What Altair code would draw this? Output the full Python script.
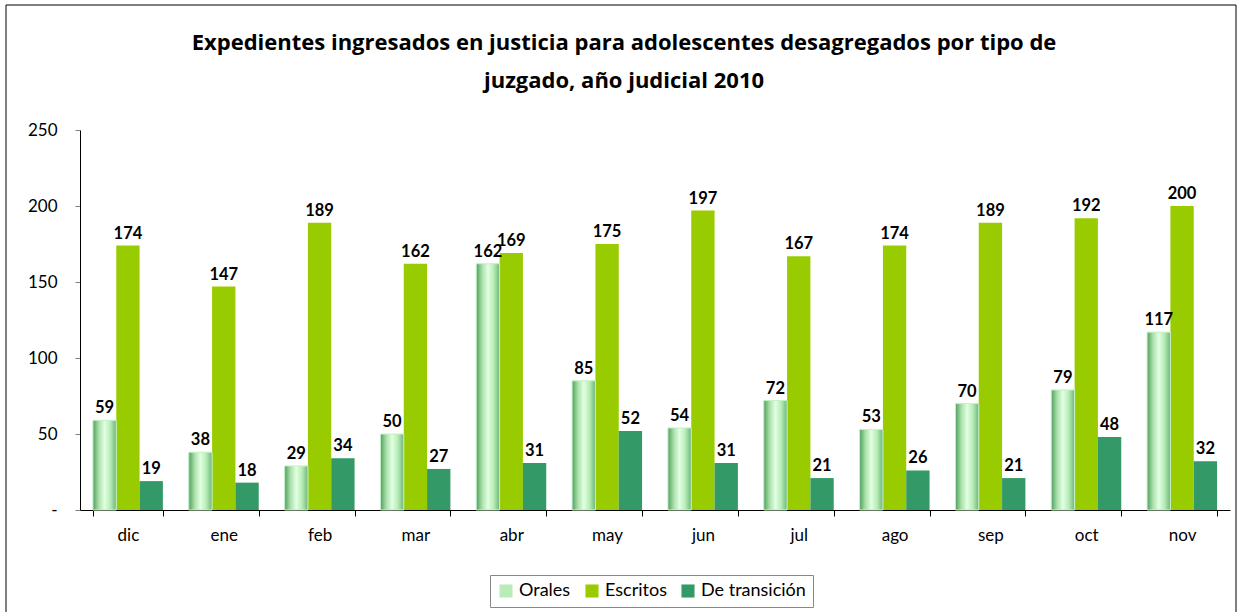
import altair as alt
import pandas as pd

meses = ["dic", "ene", "feb", "mar", "abr", "may", "jun", "jul", "ago", "sep", "oct", "nov"]
orales = [59, 38, 29, 50, 162, 85, 54, 72, 53, 70, 79, 117]
escritos = [174, 147, 189, 162, 169, 175, 197, 167, 174, 189, 192, 200]
transicion = [19, 18, 34, 27, 31, 52, 31, 21, 26, 21, 48, 32]
series = ["Orales", "Escritos", "De transición"]

rows = []
for i, m in enumerate(meses):
    rows.append({"mes": m, "tipo": "Orales", "valor": orales[i]})
    rows.append({"mes": m, "tipo": "Escritos", "valor": escritos[i]})
    rows.append({"mes": m, "tipo": "De transición", "valor": transicion[i]})
df = pd.DataFrame(rows)

FONT = "Lato"

x = alt.X("mes:N", sort=meses, title=None,
          scale=alt.Scale(paddingInner=0.27, paddingOuter=0.135),
          axis=alt.Axis(labelAngle=0, labelFontSize=17, labelFont=FONT, labelColor="black",
                        tickBand="extent", tickSize=6, tickColor="black", domainColor="black",
                        labelPadding=11))
xo = alt.XOffset("tipo:N", sort=series, scale=alt.Scale(domain=series, paddingInner=0, paddingOuter=0))
y = alt.Y("valor:Q", title=None,
          scale=alt.Scale(domain=[0, 250]),
          axis=alt.Axis(values=[0, 50, 100, 150, 200, 250], grid=False, labelFontSize=17,
                        labelFont=FONT, labelColor="black", tickSize=5, tickColor="gray",
                        domainColor="black", labelPadding=18,
                        labelExpr="datum.value == 0 ? '-' : datum.label"))

color = alt.Color("tipo:N", sort=series,
                  scale=alt.Scale(domain=series, range=["#b8ecb8", "#99CC00", "#339966"]),
                  legend=alt.Legend(title=None, orient="none", direction="horizontal",
                                    legendX=410, legendY=445,
                                    labelFontSize=18, labelFont=FONT, labelColor="black",
                                    symbolType="square", symbolSize=170, strokeColor="#888",
                                    padding=7, columnPadding=12, labelLimit=200))

base = alt.Chart(df)

bars = base.mark_bar().encode(x=x, xOffset=xo, y=y, color=color)

grad = alt.LinearGradient(
    gradient="linear", x1=0, x2=1, y1=0, y2=0,
    stops=[alt.GradientStop(offset=0, color="#4f9f60"),
           alt.GradientStop(offset=0.25, color="#a9e0a9"),
           alt.GradientStop(offset=0.5, color="#e2ffe2"),
           alt.GradientStop(offset=0.75, color="#b5ecb5"),
           alt.GradientStop(offset=1, color="#6db57a")])

oral_bars = base.transform_filter(alt.datum.tipo == "Orales").mark_bar(
    fill=grad, stroke="#c8f0c8", strokeWidth=1).encode(x=x, xOffset=xo, y=y)

labels = base.mark_text(dy=-12, fontSize=16.5, fontWeight="bold", font=FONT, color="black").encode(
    x=x, xOffset=xo, y=y, text="valor:Q")

frame = alt.Chart(pd.DataFrame({"a": [0]})).mark_rect(
    fill=None, stroke="black", strokeWidth=1).encode(
    x=alt.value(-74), x2=alt.value(1156), y=alt.value(-125), y2=alt.value(500))

chart = alt.layer(frame, bars, oral_bars, labels).properties(
    width=1150, height=380,
    title=alt.TitleParams(
        ["Expedientes ingresados en justicia para adolescentes desagregados por tipo de",
         "juzgado, año judicial 2010"],
        font="Open Sans", fontSize=22, fontWeight="bold", color="black", anchor="middle",
        dx=-31, lineHeight=38, offset=-88),
    autosize=alt.AutoSizeParams(type="none"),
    padding={"left": 80, "top": 130, "right": 11, "bottom": 102},
).configure_view(stroke=None).configure_legend(symbolStrokeWidth=0)

chart.save("out.html", embed_options={"renderer": "svg", "actions": False})
